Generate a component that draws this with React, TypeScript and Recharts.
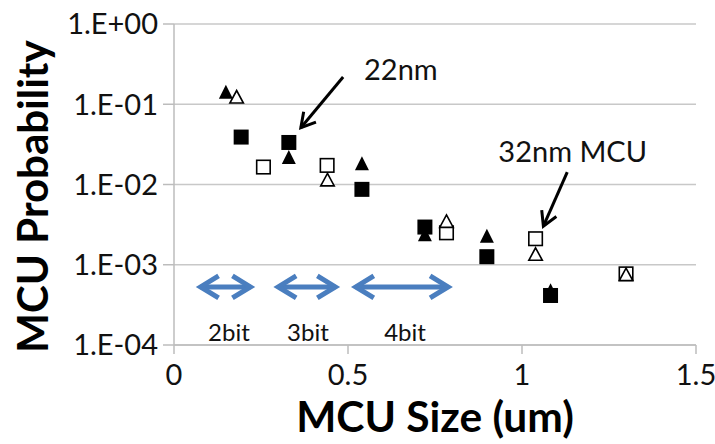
import {
  ScatterChart,
  Scatter,
  XAxis,
  YAxis,
  CartesianGrid,
  ReferenceLine,
  ReferenceDot,
} from "recharts";

const FONT = "Lato, 'Open Sans', sans-serif";
const BLUE = "#4a7ebf";

// 22nm: filled markers, 32nm: open markers
const squares22 = [
  { x: 0.193, y: 0.039 },
  { x: 0.33, y: 0.0334 },
  { x: 0.54, y: 0.0087 },
  { x: 0.721, y: 0.00295 },
  { x: 0.899, y: 0.00126 },
  { x: 1.082, y: 0.000414 },
];
const triangles22 = [
  { x: 0.149, y: 0.143 },
  { x: 0.33, y: 0.022 },
  { x: 0.54, y: 0.0184 },
  { x: 0.721, y: 0.0024 },
  { x: 0.899, y: 0.0023 },
  { x: 1.082, y: 0.00048 },
];
const squares32 = [
  { x: 0.257, y: 0.0165 },
  { x: 0.44, y: 0.0173 },
  { x: 0.783, y: 0.0025 },
  { x: 1.039, y: 0.00211 },
  { x: 1.299, y: 0.00077 },
];
const triangles32 = [
  { x: 0.18, y: 0.124 },
  { x: 0.441, y: 0.0115 },
  { x: 0.783, y: 0.0035 },
  { x: 1.039, y: 0.00136 },
  { x: 1.299, y: 0.00076 },
];

const xTicks = [0, 0.5, 1, 1.5];
const xTickLabels = ["0", "0.5", "1", "1.5"];
const yTicks = [1e-4, 1e-3, 1e-2, 1e-1, 1];
const yTickLabels = ["1.E-04", "1.E-03", "1.E-02", "1.E-01", "1.E+00"];

// bit-width ranges drawn as double arrows, with their labels
const bitRanges = [
  { label: "2bit", from: 0.062, to: 0.234, labelX: 0.158 },
  { label: "3bit", from: 0.285, to: 0.478, labelX: 0.385 },
  { label: "4bit", from: 0.508, to: 0.802, labelX: 0.664 },
];
const bitArrowY = 0.00053;
const bitLabelY = 0.000147;

// callouts: text anchor and arrow tail -> tip
const callouts = [
  { text: "22nm", tx: 0.546, ty: 0.2, from: { x: 0.486, y: 0.219 }, to: { x: 0.359, y: 0.0478 } },
  { text: "32nm MCU", tx: 0.932, ty: 0.0192, from: { x: 1.13, y: 0.0143 }, to: { x: 1.058, y: 0.0028 } },
];

const Square = (p: any) => {
  const open = p.open;
  const s = open ? 13.5 : 15;
  return (
    <rect
      x={p.cx - s / 2}
      y={p.cy - s / 2}
      width={s}
      height={s}
      fill={open ? "#fff" : "#000"}
      stroke={open ? "#000" : "none"}
      strokeWidth={1.6}
    />
  );
};

const Triangle = (p: any) => {
  const open = p.open;
  const w = open ? 13.5 : 14;
  const h = open ? 12.5 : 14;
  const d = `M${p.cx},${p.cy - h / 2} L${p.cx + w / 2},${p.cy + h / 2} L${p.cx - w / 2},${p.cy + h / 2} Z`;
  return (
    <path
      d={d}
      fill={open ? "#fff" : "#000"}
      stroke={open ? "#000" : "none"}
      strokeWidth={1.6}
      strokeLinejoin="miter"
    />
  );
};

// V-shaped head whose outer point lands on (tx, ty)
const head = (tx: number, ty: number, fx: number, fy: number, len: number, half: number, inset: number) => {
  const dx = tx - fx;
  const dy = ty - fy;
  const l = Math.hypot(dx, dy);
  const ux = dx / l;
  const uy = dy / l;
  const vx = tx - ux * inset;
  const vy = ty - uy * inset;
  const bx = vx - ux * len;
  const by = vy - uy * len;
  return {
    vx,
    vy,
    points: `${bx - uy * half},${by + ux * half} ${vx},${vy} ${bx + uy * half},${by - ux * half}`,
  };
};

const DoubleArrow = (p: any) => {
  const { x1, y1, x2, y2 } = p;
  const a = head(x1, y1, x2, y2, 18, 11, 5);
  const b = head(x2, y2, x1, y1, 18, 11, 5);
  return (
    <g stroke={BLUE} strokeWidth={5} fill="none" strokeLinejoin="miter">
      <line x1={a.vx} y1={a.vy} x2={b.vx} y2={b.vy} />
      <polyline points={a.points} />
      <polyline points={b.points} />
    </g>
  );
};

const Pointer = (p: any) => {
  const { x1, y1, x2, y2 } = p;
  const h = head(x2, y2, x1, y1, 14, 8, 3);
  return (
    <g stroke="#000" strokeWidth={3} fill="none" strokeLinejoin="miter">
      <line x1={x1} y1={y1} x2={h.vx} y2={h.vy} />
      <polyline points={h.points} />
    </g>
  );
};

const TextAt = (p: any) => (
  <text
    x={p.cx}
    y={p.cy}
    textAnchor={p.anchor}
    dominantBaseline={p.baseline}
    fontSize={p.size}
    fontFamily={FONT}
    fill="#111"
  >
    {p.value}
  </text>
);

const XTitle = (p: any) => {
  const vb = p.viewBox;
  return (
    <text
      x={vb.x + vb.width / 2}
      y={vb.y + 87}
      textAnchor="middle"
      fontSize={42.5}
      fontWeight={700}
      fontFamily={FONT}
      fill="#000"
    >
      MCU Size (um)
    </text>
  );
};

const YTitle = (p: any) => {
  const vb = p.viewBox;
  const cx = vb.x + 48;
  const cy = vb.y + vb.height / 2 + 12;
  return (
    <text
      x={cx}
      y={cy}
      transform={`rotate(-90, ${cx}, ${cy})`}
      textAnchor="middle"
      fontSize={42}
      fontWeight={700}
      fontFamily={FONT}
      fill="#000"
    >
      MCU Probability
    </text>
  );
};

const App = () => {
  return (
    <div style={{ position: "absolute", left: 0, top: 0, background: "#fff" }}>
      <ScatterChart width={715} height={444} margin={{ top: 24, right: 19, bottom: 0, left: 0 }}>
        <CartesianGrid vertical={false} stroke="#c8c8c8" strokeWidth={1.5} />
        <XAxis
          type="number"
          dataKey="x"
          domain={[0, 1.5]}
          ticks={xTicks}
          interval={0}
          tickFormatter={(_v: number, i: number) => xTickLabels[i]}
          height={99}
          tickSize={9}
          tickMargin={10}
          axisLine={{ stroke: "#bcbcbc", strokeWidth: 1.5 }}
          tickLine={{ stroke: "#bcbcbc", strokeWidth: 1.5 }}
          tick={{ fontSize: 29, fill: "#111", fontFamily: FONT }}
          label={{ content: XTitle }}
        />
        <YAxis
          type="number"
          dataKey="y"
          scale="log"
          domain={[1e-4, 1]}
          ticks={yTicks}
          interval={0}
          allowDataOverflow
          tickFormatter={(_v: number, i: number) => yTickLabels[i]}
          width={174}
          tickSize={11}
          tickMargin={5}
          axisLine={{ stroke: "#bcbcbc", strokeWidth: 1.5 }}
          tickLine={{ stroke: "#bcbcbc", strokeWidth: 1.5 }}
          tick={{ fontSize: 29, fill: "#111", fontFamily: FONT }}
          label={{ content: YTitle }}
        />
        <Scatter data={squares32} isAnimationActive={false} shape={(p: any) => <Square {...p} open />} />
        <Scatter data={triangles32} isAnimationActive={false} shape={(p: any) => <Triangle {...p} open />} />
        <Scatter data={triangles22} isAnimationActive={false} shape={(p: any) => <Triangle {...p} />} />
        <Scatter data={squares22} isAnimationActive={false} shape={(p: any) => <Square {...p} />} />
        {bitRanges.map((r) => (
          <ReferenceLine
            key={r.label}
            segment={[
              { x: r.from, y: bitArrowY },
              { x: r.to, y: bitArrowY },
            ]}
            shape={DoubleArrow}
          />
        ))}
        {bitRanges.map((r) => (
          <ReferenceDot
            key={`t-${r.label}`}
            x={r.labelX}
            y={bitLabelY}
            shape={(p: any) => <TextAt {...p} value={r.label} anchor="middle" baseline="central" size={24} />}
          />
        ))}
        {callouts.map((c) => (
          <ReferenceLine key={`a-${c.text}`} segment={[c.from, c.to]} shape={Pointer} />
        ))}
        {callouts.map((c) => (
          <ReferenceDot
            key={`c-${c.text}`}
            x={c.tx}
            y={c.ty}
            shape={(p: any) => <TextAt {...p} value={c.text} anchor="start" baseline="alphabetic" size={29} />}
          />
        ))}
      </ScatterChart>
    </div>
  );
};

export default App;
